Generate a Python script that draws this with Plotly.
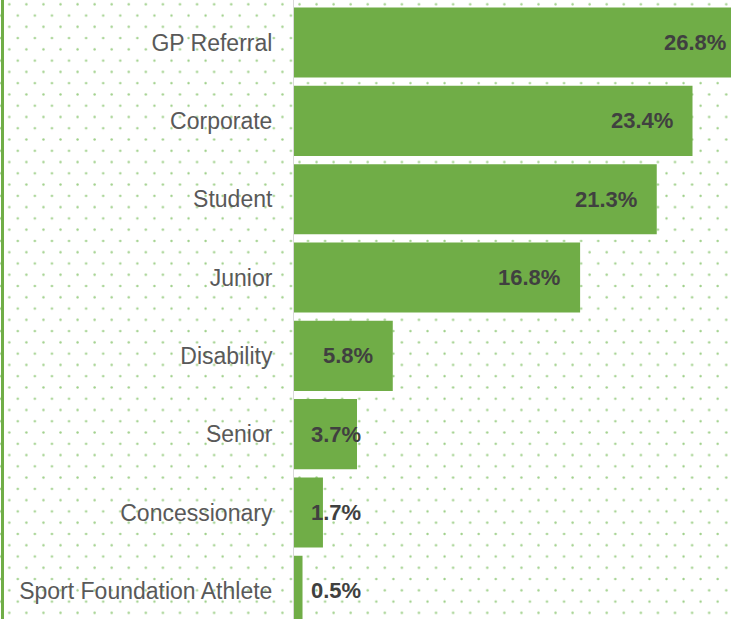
import base64
import plotly.graph_objects as go

# Membership categories and their share of members (%)
categories = ["GP Referral", "Corporate", "Student", "Junior", "Disability",
              "Senior", "Concessionary", "Sport Foundation Athlete"]
shares = [26.8, 23.4, 21.3, 16.8, 5.8, 3.7, 1.7, 0.5]

BAR_GREEN = "#70AD47"
FONT = "Liberation Sans, Arial, sans-serif"

W, H = 731, 619
LEFT = 294
X_MAX = 25.66

# Staggered dot background as an svg pattern
dots_svg = (
    f'<svg xmlns="http://www.w3.org/2000/svg" width="{W}" height="{H}">'
    '<defs><pattern id="d" patternUnits="userSpaceOnUse" x="7.8" y="2.8" '
    'width="17.07" height="22.54">'
    '<circle cx="1.5" cy="1.5" r="1.2" fill="#9fd08a"/>'
    '<circle cx="10.03" cy="12.77" r="1.2" fill="#9fd08a"/>'
    '</pattern></defs>'
    f'<rect width="{W}" height="{H}" fill="url(#d)"/></svg>'
)
dots_src = "data:image/svg+xml;base64," + base64.b64encode(dots_svg.encode()).decode()

fig = go.Figure()
fig.add_trace(go.Bar(x=shares, y=categories, orientation="h",
                     marker=dict(color=BAR_GREEN, line=dict(width=0)),
                     hoverinfo="skip"))

# Value labels: right-aligned inside long bars, left-aligned for short ones
for cat, v in zip(categories, shares):
    if v > 4.8:
        fig.add_annotation(x=min(v - 1.05, X_MAX - 0.15), y=cat, text=f"{v:.1f}%",
                           xanchor="right", showarrow=False)
    else:
        fig.add_annotation(x=0.88, y=cat, text=f"{v:.1f}%",
                           xanchor="left", showarrow=False)
fig.update_annotations(font=dict(family=FONT, size=22, color="#404040", weight="bold"))

fig.add_layout_image(source=dots_src, xref="paper", yref="paper",
                     x=-LEFT / (W - LEFT), y=1, sizex=W / (W - LEFT), sizey=1,
                     xanchor="left", yanchor="top", sizing="stretch", layer="below")

# green frame line on the far left
fig.add_shape(type="line", xref="paper", yref="paper",
              x0=-(LEFT - 2.5) / (W - LEFT), x1=-(LEFT - 2.5) / (W - LEFT), y0=0, y1=1,
              line=dict(color=BAR_GREEN, width=3))

fig.update_layout(
    width=W, height=H,
    margin=dict(l=LEFT, r=0, t=0, b=0),
    paper_bgcolor="white", plot_bgcolor="rgba(0,0,0,0)",
    bargap=0.105, showlegend=False, hovermode=False,
    xaxis=dict(range=[0, X_MAX], visible=False, fixedrange=True, automargin=False),
    yaxis=dict(type="category", range=[7.36, -0.543], showgrid=False, fixedrange=True,
               showline=True, linecolor="#d9d9d9", linewidth=1, automargin=False,
               ticks="", ticklabelstandoff=16,
               tickfont=dict(family=FONT, size=23, color="#595959")),
)

# drop the default page margin so the figure sits at the window's top-left corner
fig.write_html("out.html", config={"displayModeBar": False},
               post_script="document.body.style.margin = '0';")
